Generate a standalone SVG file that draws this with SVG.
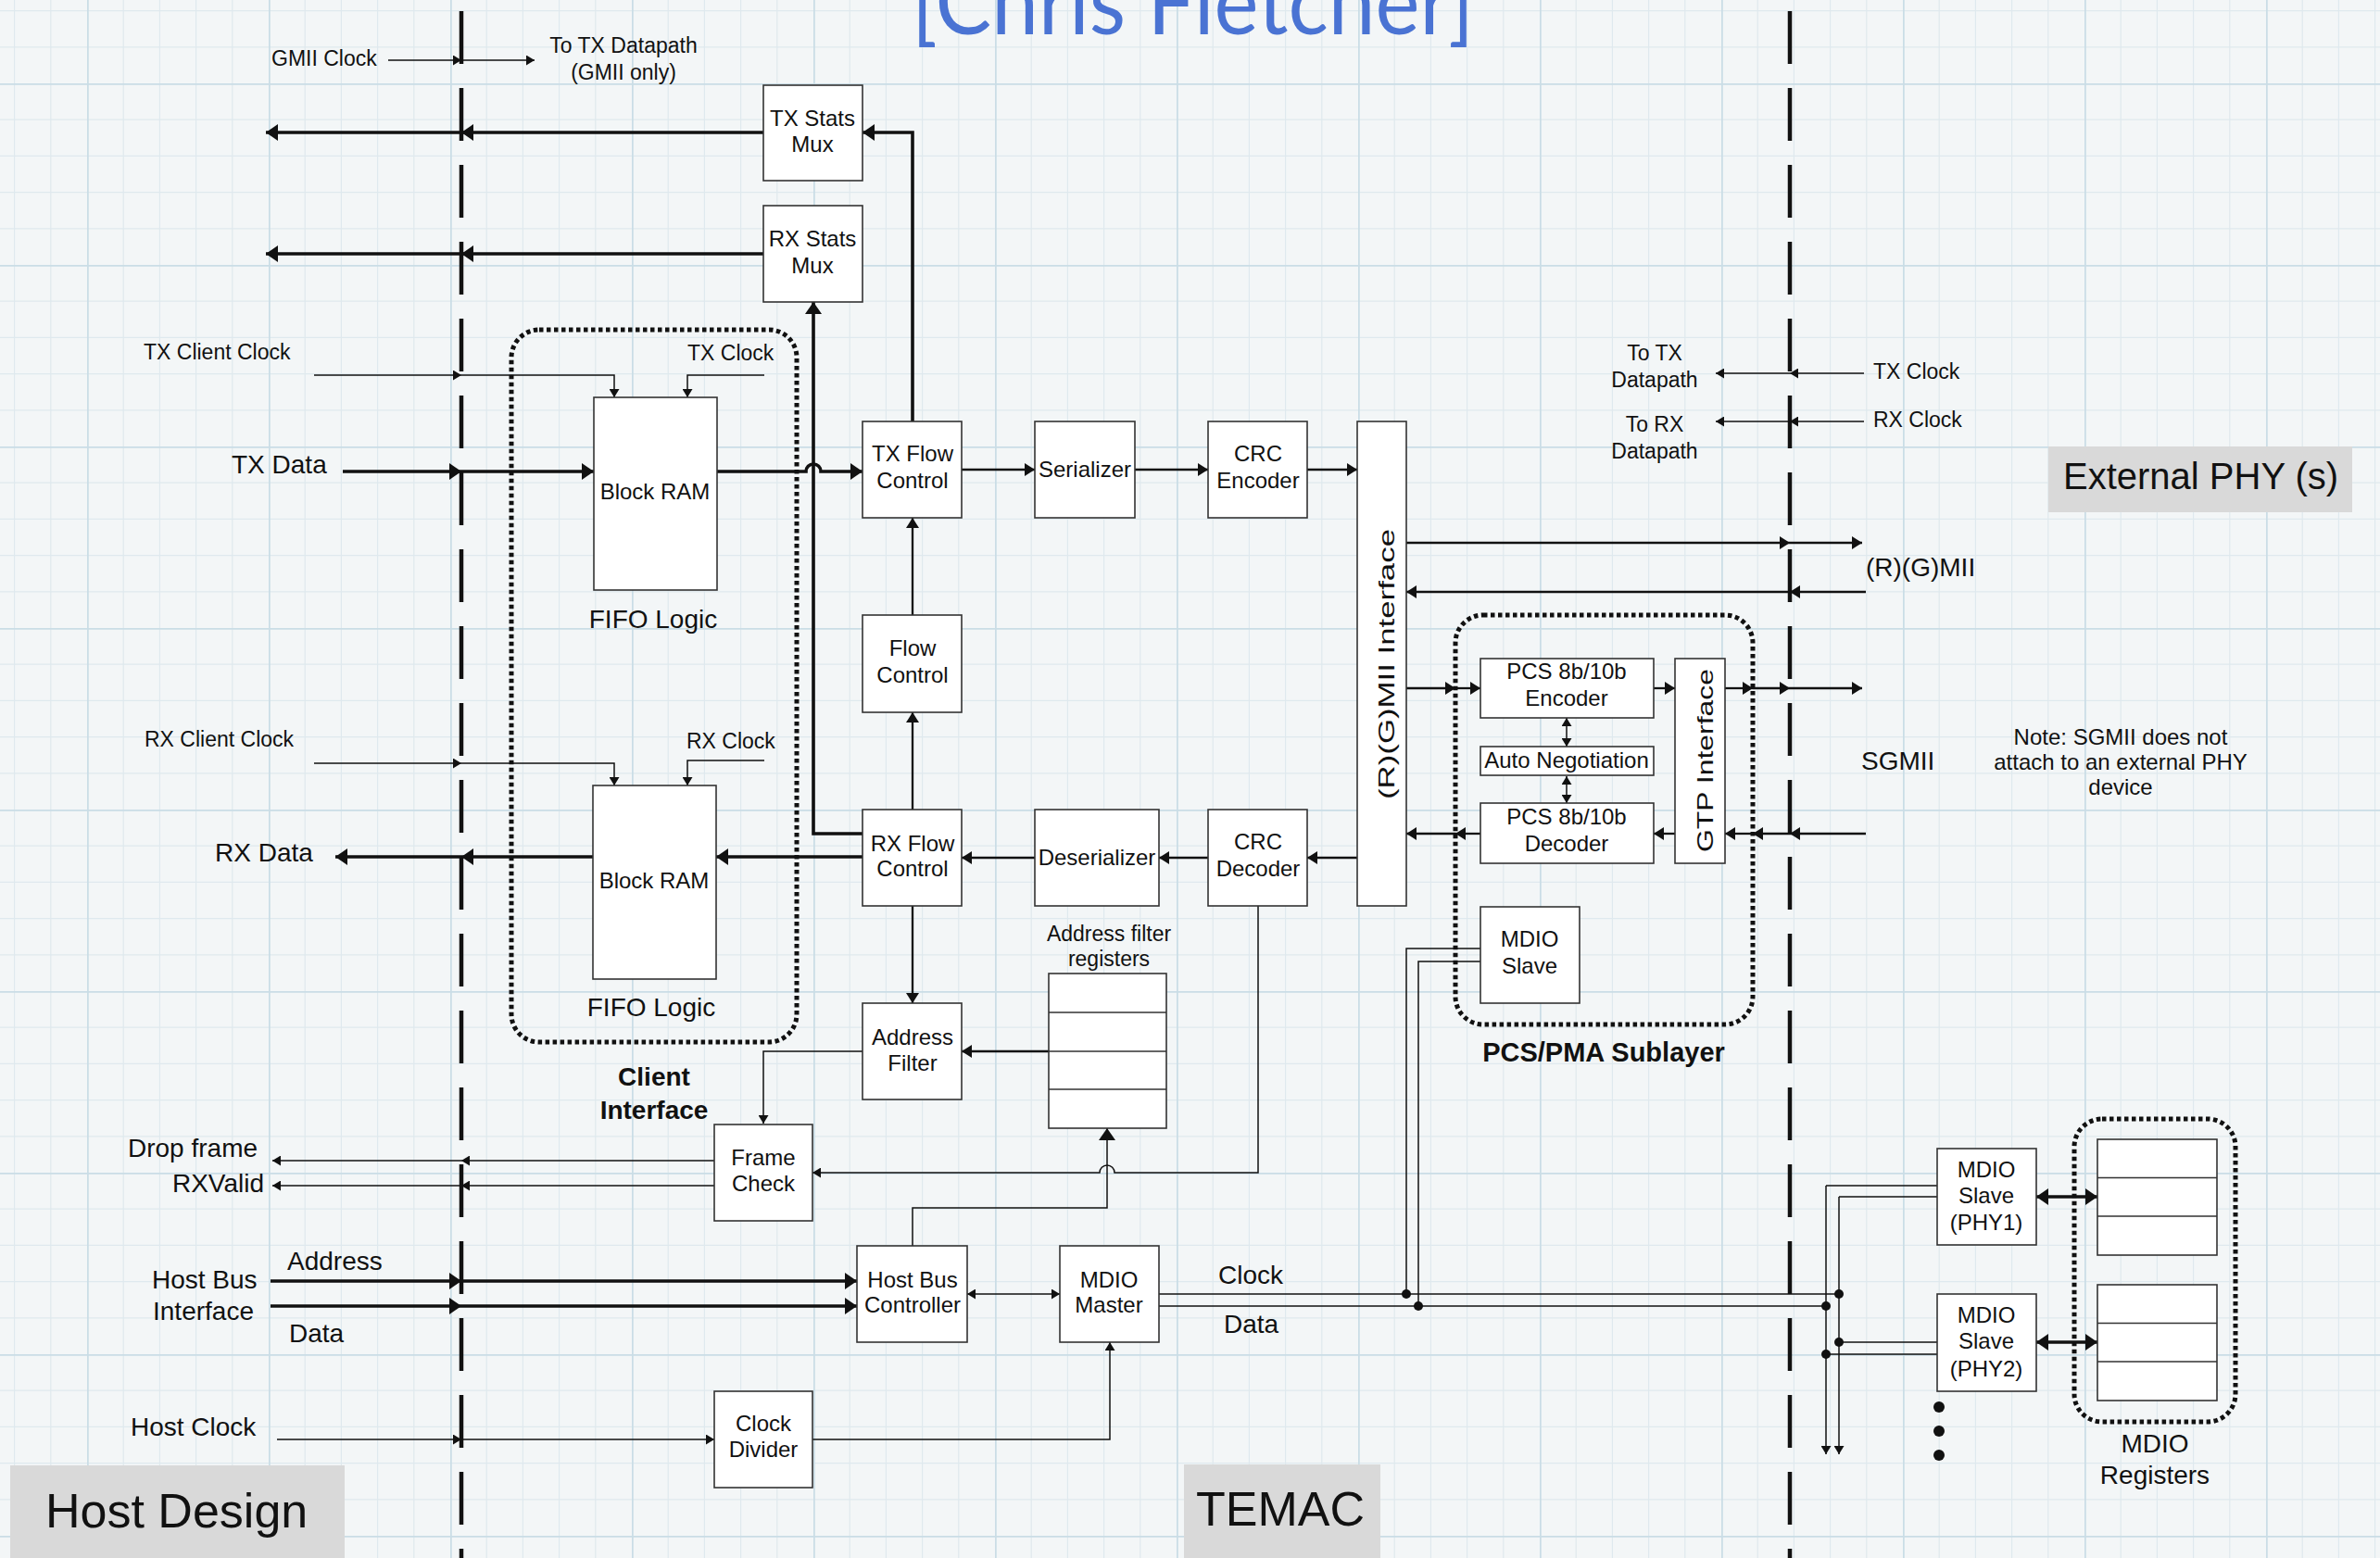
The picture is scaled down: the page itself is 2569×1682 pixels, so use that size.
<svg xmlns="http://www.w3.org/2000/svg" width="2569" height="1682" viewBox="0 0 2569 1682">
<defs>
<pattern id="grid" x="94" y="90" width="196" height="196" patternUnits="userSpaceOnUse">
<path d="M39.2,0V196M78.4,0V196M117.6,0V196M156.8,0V196M0,39.2H196M0,78.4H196M0,117.6H196M0,156.8H196" stroke="#dfe9ee" stroke-width="1.2" fill="none"/>
<path d="M0.5,0V196M0,0.5H196" stroke="#cadde6" stroke-width="2.5" fill="none"/>
</pattern>
<marker id="a" viewBox="0 0 10 10" refX="10" refY="5" markerWidth="9" markerHeight="11" markerUnits="userSpaceOnUse" orient="auto-start-reverse" preserveAspectRatio="none"><path d="M0,0L10,5L0,10z" fill="#111"/></marker>
<marker id="m" viewBox="0 0 10 10" refX="10" refY="5" markerWidth="11" markerHeight="14" markerUnits="userSpaceOnUse" orient="auto-start-reverse" preserveAspectRatio="none"><path d="M0,0L10,5L0,10z" fill="#111"/></marker>
<marker id="b" viewBox="0 0 10 10" refX="10" refY="5" markerWidth="13" markerHeight="18" markerUnits="userSpaceOnUse" orient="auto-start-reverse" preserveAspectRatio="none"><path d="M0,0L10,5L0,10z" fill="#111"/></marker>
</defs>
<style>
.bx{fill:#fff;stroke:#333;stroke-width:1.6}
.t{font-family:"Liberation Sans",Arial,sans-serif;font-size:24px;fill:#111;text-anchor:middle}
.s{font-family:"Liberation Sans",Arial,sans-serif;font-size:23px;fill:#111}
.L{font-family:"Liberation Sans",Arial,sans-serif;font-size:28px;fill:#111}
.B{font-family:"Liberation Sans",Arial,sans-serif;font-weight:bold;fill:#111;text-anchor:middle}
.th{stroke:#111;stroke-width:1.5;fill:none;marker-end:url(#a)}
.tn{stroke:#111;stroke-width:1.5;fill:none}
.md{stroke:#111;stroke-width:2.3;fill:none;marker-end:url(#m)}
.bd{stroke:#111;stroke-width:3.6;fill:none;marker-end:url(#b)}
.dash{stroke:#111;stroke-width:4.5;stroke-dasharray:57 26;fill:none}
.dot{stroke:#111;stroke-width:5;stroke-dasharray:4.5 3.5;fill:none}
.gb{fill:#d9d9d9}
</style>
<rect width="2569" height="1682" fill="#f3f6f7"/>
<rect width="2569" height="1682" fill="url(#grid)"/>

<g id="title"><text x="984" y="37" font-family="Lato,'Open Sans',sans-serif" font-size="96" fill="#4a73d3" textLength="607" lengthAdjust="spacingAndGlyphs">[Chris Fletcher]</text></g>

<g id="boundaries">
<path class="dash" d="M498,12V1682"/>
<path class="dash" d="M1932,12V1682"/>
</g>

<g id="region-labels">
<rect class="gb" x="11" y="1582" width="361" height="100"/>
<text x="49" y="1649" font-family="'Liberation Sans',Arial,sans-serif" font-size="52" fill="#111">Host Design</text>
<rect class="gb" x="1278" y="1581" width="212" height="101"/>
<text x="1291" y="1647" font-family="'Liberation Sans',Arial,sans-serif" font-size="52" fill="#111">TEMAC</text>
<rect class="gb" x="2211" y="482" width="328" height="71"/>
<text x="2227" y="528" font-family="'Liberation Sans',Arial,sans-serif" font-size="40" fill="#111">External PHY (s)</text>
</g>

<g id="groups">
<rect id="client-interface" class="dot" x="552" y="356" width="308" height="769" rx="30"/>
<text class="B" x="706" y="1172" font-size="28">Client</text>
<text class="B" x="706" y="1208" font-size="28">Interface</text>
<rect id="pcs-pma" class="dot" x="1571" y="664" width="321" height="442" rx="30"/>
<text class="B" x="1731" y="1146" font-size="29">PCS/PMA Sublayer</text>
<rect id="mdio-registers" class="dot" x="2239" y="1208" width="174" height="327" rx="30"/>
<text class="L" x="2326" y="1568" text-anchor="middle">MDIO</text>
<text class="L" x="2326" y="1602" text-anchor="middle">Registers</text>
</g>

<g id="connectors">
<path class="th" d="M419,65H498"/><path class="th" d="M498,65H577"/>
<path class="bd" d="M824,143H498"/><path class="bd" d="M498,143H287"/>
<path class="bd" d="M824,274H498"/><path class="bd" d="M498,274H287"/>
<path class="bd" d="M985,455V143H931"/>
<path class="bd" d="M931,900H878V326"/>
<path class="th" d="M339,405H498"/><path class="th" d="M498,405H663V429"/>
<path class="th" d="M825,405H742V429"/>
<path class="bd" d="M370,509H498"/><path class="bd" d="M498,509H641"/>
<path class="bd" d="M774,509H870A8,8 0 0 1 886,509H931"/>
<path class="th" d="M339,824H498"/><path class="th" d="M498,824H663V848"/>
<path class="th" d="M825,821H742V848"/>
<path class="bd" d="M640,925H498"/><path class="bd" d="M498,925H362"/>
<path class="bd" d="M931,925H773"/>
<path class="md" d="M1038,507H1117"/><path class="md" d="M1225,507H1304"/><path class="md" d="M1411,507H1465"/>
<path class="md" d="M985,664V559"/>
<path class="md" d="M985,874V769"/>
<path class="md" d="M1465,926H1411"/><path class="md" d="M1304,926H1251"/><path class="md" d="M1117,926H1038"/>
<path class="md" d="M985,978V1083"/>
<path class="md" d="M1132,1135H1038"/>
<path class="th" d="M931,1135H824V1213"/>
<path class="th" d="M1358,978V1266H1203A8,8 0 0 0 1187,1266H877"/>
<path class="th" d="M771,1253H498"/><path class="th" d="M498,1253H294"/>
<path class="th" d="M771,1280H498"/><path class="th" d="M498,1280H294"/>
<path class="bd" d="M292,1383H498"/><path class="bd" d="M498,1383H925"/>
<path class="bd" d="M292,1410H498"/><path class="bd" d="M498,1410H925"/>
<path class="th" d="M1044,1397H1144" marker-start="url(#a)"/>
<path class="tn" d="M985,1345V1304H1195V1218" stroke-width="2" marker-end="url(#b)"/>
<path class="th" d="M299,1554H498"/><path class="th" d="M498,1554H771"/>
<path class="th" d="M877,1554H1198V1449"/>
<path class="tn" d="M1251,1397H1985"/>
<path class="tn" d="M1251,1410H1971"/>
<path class="tn" d="M1518,1397V1024H1598"/>
<path class="tn" d="M1531,1410V1038H1598"/>
<path class="tn" d="M2091,1280H1971"/><path class="th" d="M1971,1280V1570"/>
<path class="tn" d="M2091,1292H1985"/><path class="th" d="M1985,1292V1570"/>
<path class="tn" d="M1985,1449H2091"/>
<path class="tn" d="M1971,1462H2091"/>
<g fill="#111"><circle cx="1518" cy="1397" r="5"/><circle cx="1531" cy="1410" r="5"/><circle cx="1985" cy="1397" r="5"/><circle cx="1971" cy="1410" r="5"/><circle cx="1985" cy="1449" r="5"/><circle cx="1971" cy="1462" r="5"/></g>
<path class="bd" d="M2198,1292H2264" marker-start="url(#b)" stroke-width="3"/>
<path class="bd" d="M2198,1449H2264" marker-start="url(#b)" stroke-width="3"/>
<path class="th" d="M2012,403H1932"/><path class="th" d="M1932,403H1852"/>
<path class="th" d="M2012,455H1932"/><path class="th" d="M1932,455H1852"/>
<path class="md" d="M1518,586H1932"/><path class="md" d="M1932,586H2010"/>
<path class="md" d="M2014,639H1932"/><path class="md" d="M1932,639H1518"/>
<path class="md" d="M1518,743H1571"/><path class="md" d="M1571,743H1598"/>
<path class="md" d="M1785,743H1808"/>
<path class="md" d="M1862,743H1892"/><path class="md" d="M1892,743H1932"/><path class="md" d="M1932,743H2010"/>
<path class="md" d="M2014,900H1932"/><path class="md" d="M1932,900H1892"/><path class="md" d="M1892,900H1862"/>
<path class="md" d="M1808,900H1785"/>
<path class="md" d="M1598,900H1571"/><path class="md" d="M1571,900H1518"/>
<path class="th" d="M1691,775V806" marker-start="url(#a)"/>
<path class="th" d="M1691,838V867" marker-start="url(#a)"/>
</g>

<g id="labels">
<text class="s" x="293" y="71">GMII Clock</text>
<text class="s" x="673" y="57" text-anchor="middle">To TX Datapath</text>
<text class="s" x="673" y="86" text-anchor="middle">(GMII only)</text>
<text class="s" x="155" y="388">TX Client Clock</text>
<text class="s" x="742" y="389">TX Clock</text>
<text class="L" x="250" y="511">TX Data</text>
<text class="s" x="156" y="806">RX Client Clock</text>
<text class="s" x="741" y="808">RX Clock</text>
<text class="L" x="232" y="930">RX Data</text>
<text class="s" x="1197" y="1016" text-anchor="middle">Address filter</text>
<text class="s" x="1197" y="1043" text-anchor="middle">registers</text>
<text class="L" x="138" y="1249">Drop frame</text>
<text class="L" x="285" y="1287" text-anchor="end">RXValid</text>
<text class="L" x="164" y="1391">Host Bus</text>
<text class="L" x="165" y="1425">Interface</text>
<text class="L" x="310" y="1371">Address</text>
<text class="L" x="312" y="1449">Data</text>
<text class="L" x="141" y="1550">Host Clock</text>
<text class="L" x="1315" y="1386">Clock</text>
<text class="L" x="1321" y="1439">Data</text>
<text class="s" x="1786" y="389" text-anchor="middle">To TX</text>
<text class="s" x="1786" y="418" text-anchor="middle">Datapath</text>
<text class="s" x="1786" y="466" text-anchor="middle">To RX</text>
<text class="s" x="1786" y="495" text-anchor="middle">Datapath</text>
<text class="s" x="2022" y="409">TX Clock</text>
<text class="s" x="2022" y="461">RX Clock</text>
<text class="L" x="2014" y="622">(R)(G)MII</text>
<text class="L" x="2009" y="831">SGMII</text>
<text class="t" x="2289" y="804">Note: SGMII does not</text>
<text class="t" x="2289" y="831">attach to an external PHY</text>
<text class="t" x="2289" y="858">device</text>
<g fill="#111"><circle cx="2093" cy="1519" r="6"/><circle cx="2093" cy="1545" r="6"/><circle cx="2093" cy="1571" r="6"/></g>
</g>

<g id="tx-stats-mux"><rect class="bx" x="824" y="92" width="107" height="103"/><text class="t" x="877" y="136">TX Stats</text><text class="t" x="877" y="164">Mux</text></g>
<g id="rx-stats-mux"><rect class="bx" x="824" y="222" width="107" height="104"/><text class="t" x="877" y="266">RX Stats</text><text class="t" x="877" y="295">Mux</text></g>
<g id="tx-block-ram"><rect class="bx" x="641" y="429" width="133" height="208"/><text class="t" x="707" y="539" font-size="23">Block RAM</text><text class="L" x="705" y="678" text-anchor="middle">FIFO Logic</text></g>
<g id="rx-block-ram"><rect class="bx" x="640" y="848" width="133" height="209"/><text class="t" x="706" y="959" font-size="23">Block RAM</text><text class="L" x="703" y="1097" text-anchor="middle">FIFO Logic</text></g>
<g id="tx-flow-control"><rect class="bx" x="931" y="455" width="107" height="104"/><text class="t" x="985" y="498">TX Flow</text><text class="t" x="985" y="527">Control</text></g>
<g id="serializer"><rect class="bx" x="1117" y="455" width="108" height="104"/><text class="t" x="1171" y="515" font-size="23">Serializer</text></g>
<g id="crc-encoder"><rect class="bx" x="1304" y="455" width="107" height="104"/><text class="t" x="1358" y="498">CRC</text><text class="t" x="1358" y="527">Encoder</text></g>
<g id="rgmii-interface"><rect class="bx" x="1465" y="455" width="53" height="523"/><text class="t" transform="translate(1505,717) rotate(-90)" font-size="40" textLength="292" lengthAdjust="spacingAndGlyphs">(R)(G)MII Interface</text></g>
<g id="flow-control"><rect class="bx" x="931" y="664" width="107" height="105"/><text class="t" x="985" y="708">Flow</text><text class="t" x="985" y="737">Control</text></g>
<g id="rx-flow-control"><rect class="bx" x="931" y="874" width="107" height="104"/><text class="t" x="985" y="919">RX Flow</text><text class="t" x="985" y="946">Control</text></g>
<g id="deserializer"><rect class="bx" x="1117" y="874" width="134" height="104"/><text class="t" x="1184" y="934">Deserializer</text></g>
<g id="crc-decoder"><rect class="bx" x="1304" y="874" width="107" height="104"/><text class="t" x="1358" y="917">CRC</text><text class="t" x="1358" y="946">Decoder</text></g>
<g id="address-filter"><rect class="bx" x="931" y="1083" width="107" height="104"/><text class="t" x="985" y="1128">Address</text><text class="t" x="985" y="1156">Filter</text></g>
<g id="address-filter-registers"><rect class="bx" x="1132" y="1051" width="127" height="167"/><path d="M1132,1093H1259M1132,1135H1259M1132,1176H1259" stroke="#333" stroke-width="1.6"/></g>
<g id="frame-check"><rect class="bx" x="771" y="1214" width="106" height="104"/><text class="t" x="824" y="1258">Frame</text><text class="t" x="824" y="1286">Check</text></g>
<g id="host-bus-controller"><rect class="bx" x="925" y="1345" width="119" height="104"/><text class="t" x="985" y="1390">Host Bus</text><text class="t" x="985" y="1417">Controller</text></g>
<g id="mdio-master"><rect class="bx" x="1144" y="1345" width="107" height="104"/><text class="t" x="1197" y="1390">MDIO</text><text class="t" x="1197" y="1417">Master</text></g>
<g id="clock-divider"><rect class="bx" x="771" y="1502" width="106" height="104"/><text class="t" x="824" y="1545">Clock</text><text class="t" x="824" y="1573">Divider</text></g>
<g id="pcs-encoder"><rect class="bx" x="1598" y="711" width="187" height="64"/><text class="t" x="1691" y="733">PCS 8b/10b</text><text class="t" x="1691" y="762">Encoder</text></g>
<g id="auto-negotiation"><rect class="bx" x="1598" y="806" width="187" height="31"/><text class="t" x="1691" y="829">Auto Negotiation</text></g>
<g id="pcs-decoder"><rect class="bx" x="1598" y="867" width="187" height="65"/><text class="t" x="1691" y="890">PCS 8b/10b</text><text class="t" x="1691" y="919">Decoder</text></g>
<g id="gtp-interface"><rect class="bx" x="1808" y="711" width="54" height="221"/><text class="t" transform="translate(1849,821) rotate(-90)" font-size="37" textLength="198" lengthAdjust="spacingAndGlyphs">GTP Interface</text></g>
<g id="mdio-slave-pcs"><rect class="bx" x="1598" y="979" width="107" height="104"/><text class="t" x="1651" y="1022">MDIO</text><text class="t" x="1651" y="1051">Slave</text></g>
<g id="mdio-slave-phy1"><rect class="bx" x="2091" y="1240" width="107" height="104"/><text class="t" x="2144" y="1271">MDIO</text><text class="t" x="2144" y="1299">Slave</text><text class="t" x="2144" y="1328">(PHY1)</text></g>
<g id="mdio-slave-phy2"><rect class="bx" x="2091" y="1397" width="107" height="105"/><text class="t" x="2144" y="1428">MDIO</text><text class="t" x="2144" y="1456">Slave</text><text class="t" x="2144" y="1486">(PHY2)</text></g>
<g id="phy1-registers"><rect class="bx" x="2264" y="1230" width="129" height="125"/><path d="M2264,1271.5H2393M2264,1313H2393" stroke="#333" stroke-width="1.6"/></g>
<g id="phy2-registers"><rect class="bx" x="2264" y="1387" width="129" height="125"/><path d="M2264,1428.5H2393M2264,1470H2393" stroke="#333" stroke-width="1.6"/></g>
</svg>
